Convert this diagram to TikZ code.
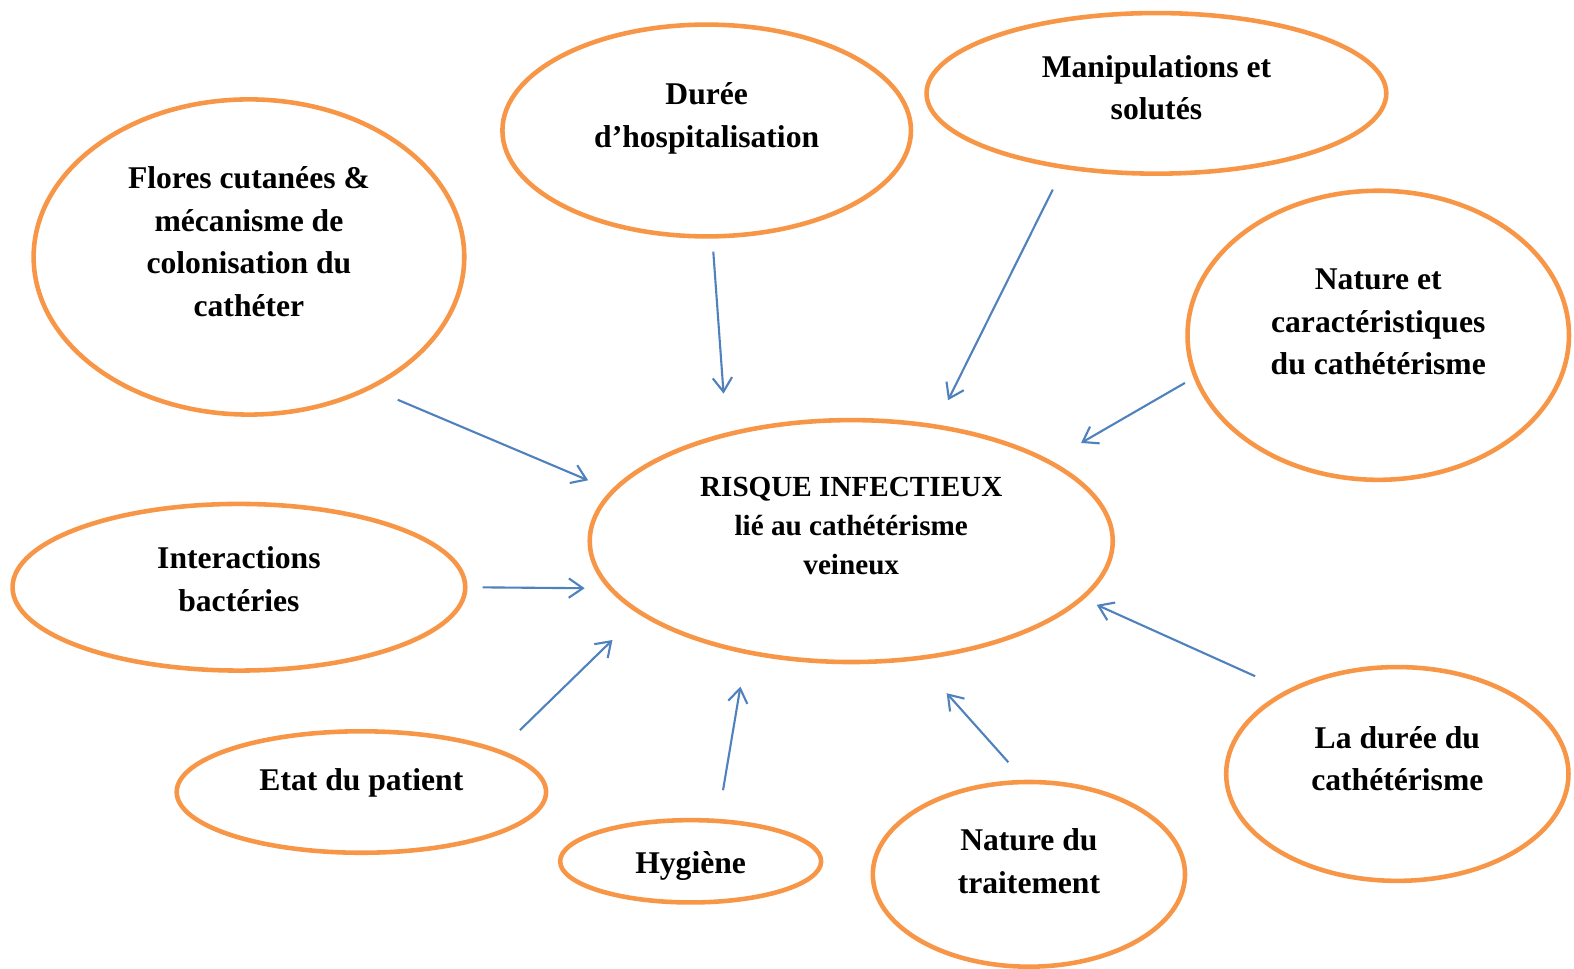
\documentclass[tikz,border=0pt]{standalone}
\usepackage{fontspec}
\setmainfont{Liberation Serif}
\usetikzlibrary{arrows.meta, shapes.geometric}
\definecolor{bulleorange}{RGB}{247,150,70}
\definecolor{flecheblue}{RGB}{79,129,189}

\begin{document}
\begin{tikzpicture}[
    x=0.02008cm, y=-0.02008cm,
    bulle/.style={ellipse, draw=bulleorange, line width=2.6pt, inner sep=0pt, align=center, font=\fontsize{18}{24.3}\selectfont\bfseries},
    dims/.style 2 args={minimum width=#1*0.02008cm, minimum height=#2*0.02008cm},
    lift/.style={execute at end node={\rule[-#1]{0pt}{0pt}}},
    sink/.style={execute at begin node={\rule{0pt}{#1}}},
    arr/.style={-{Straight Barb[length=8pt, width=11pt]}, line width=1.2pt, draw=flecheblue}
  ]
  \useasboundingbox (0,0) rectangle (1568,965);

  % les bulles
  \node[bulle, dims={429}{314}, lift=17.5pt] (flores) at (248,256) {Flores cutanées \&\\mécanisme de\\colonisation du\\cathéter};
  \node[bulle, dims={407}{211}, lift=17.5pt] (duree) at (704,130) {Durée\\d’hospitalisation};
  \node[bulle, dims={458}{160}, lift=6.5pt] (manip) at (1152,93) {Manipulations et\\solutés};
  \node[bulle, dims={380}{288}, lift=15.5pt] (nature) at (1373,334) {Nature et\\caractéristiques\\du cathétérisme};
  \node[bulle, dims={521}{241}, lift=17.5pt, font=\fontsize{16.6}{22.2}\selectfont\bfseries] (risque) at (848,539) {RISQUE INFECTIEUX\\lié au cathétérisme\\veineux};
  \node[bulle, dims={451}{166}, lift=9.5pt] (interac) at (238,585) {Interactions\\bactéries};
  \node[bulle, dims={368}{121}, lift=14.5pt] (etat) at (360,789) {Etat du patient};
  \node[bulle, dims={260}{82}, sink=18pt] (hygiene) at (688,858) {Hygiène};
  \node[bulle, dims={311}{184}, lift=15.5pt] (traitement) at (1025,871) {Nature du\\traitement};
  \node[bulle, dims={341}{213}, lift=17.5pt] (dureecath) at (1392,771) {La durée du\\cathétérisme};

  % les fleches vers le risque
  \draw[arr, shorten <=0.56cm, shorten >=0.5cm] (flores.-47.9) -- (risque.168.5);
  \draw[arr, shorten <=0.26cm, shorten >=0.78cm] (duree.-87.9) -- (risque.139.4);
  \draw[arr, shorten <=0.46cm, shorten >=0.54cm] (manip.219.1) -- (risque.54);
  \draw[arr, shorten <=0.2cm, shorten >=0.7cm] (nature.193.5) -- (risque.22);
  \draw[arr, shorten <=0.3cm, shorten >=0.46cm] (interac.-0.75) -- (risque.191.5);
  \draw[arr, shorten <=0.56cm, shorten >=0.74cm] (etat.17.2) -- (risque.199.3);
  \draw[arr, shorten <=0.58cm, shorten >=0.66cm] (hygiene.57.3) -- (risque.-133.2);
  \draw[arr, shorten <=0.47cm, shorten >=0.88cm] (traitement.93.8) -- (risque.-61.5);
  \draw[arr, shorten <=0.68cm, shorten >=0.28cm] (dureecath.143.4) -- (risque.-14.4);
\end{tikzpicture}
\end{document}
